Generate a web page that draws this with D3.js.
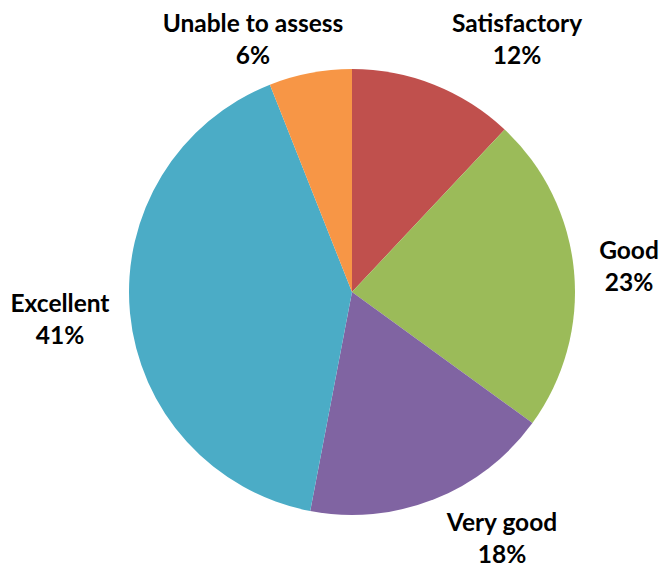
<!DOCTYPE html>
<html>
<head>
<meta charset="utf-8">
<script src="https://cdn.jsdelivr.net/npm/d3@7"></script>
<style>
  html, body { margin: 0; padding: 0; background: #fff; }
  svg { display: block; }
  .lbl { font-family: Lato, "Open Sans", sans-serif; font-weight: 700; fill: #000; }
</style>
</head>
<body>
<svg id="chart" width="659" height="570"></svg>
<script>
// Rating breakdown, clockwise from 12 o'clock
const categories = ["Satisfactory", "Good", "Very good", "Excellent", "Unable to assess"];
const shares = [12, 23, 18, 41, 6];
const colors = ["#C0504D", "#9BBB59", "#8064A2", "#4BACC6", "#F79646"];

const svg = d3.select("#chart");
const cx = 352, cy = 292, radius = 223;

const data = categories.map((c, i) => ({ name: c, value: shares[i], color: colors[i] }));

const pie = d3.pie().value(d => d.value).sort(null);
const arc = d3.arc().innerRadius(0).outerRadius(radius);

const g = svg.append("g").attr("transform", `translate(${cx},${cy})`);

g.selectAll("path.slice")
  .data(pie(data))
  .join("path")
  .attr("class", "slice")
  .attr("d", arc)
  .attr("fill", d => d.data.color);

// Label anchor points (center x, first-line baseline y)
const labelPos = {
  "Satisfactory": [517, 32],
  "Good": [629, 259],
  "Very good": [502, 531],
  "Excellent": [60, 312],
  "Unable to assess": [253, 32]
};

const labels = svg.selectAll("text.lbl")
  .data(data)
  .join("text")
  .attr("class", "lbl")
  .attr("text-anchor", "middle")
  .style("font-size", "24.5px")
  .attr("x", d => labelPos[d.name][0])
  .attr("y", d => labelPos[d.name][1]);

labels.append("tspan")
  .attr("x", d => labelPos[d.name][0])
  .text(d => d.name);
labels.append("tspan")
  .attr("x", d => labelPos[d.name][0])
  .attr("dy", 32)
  .text(d => d.value + "%");
</script>
</body>
</html>
